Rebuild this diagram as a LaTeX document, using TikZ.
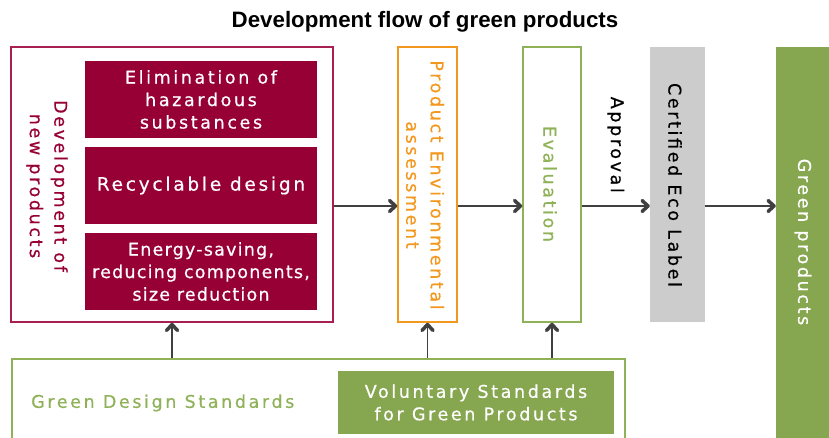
\documentclass[tikz,border=0pt]{standalone}
\usepackage{fontspec}
\setmainfont{Liberation Sans}
\newfontfamily\spaced[LetterSpace=15,FakeBold=0.6]{DejaVu Sans}
\newfontfamily\tighter[LetterSpace=7,FakeBold=0.6]{DejaVu Sans}
\usetikzlibrary{arrows.meta,calc}
\definecolor{devred}{RGB}{150,0,52}
\definecolor{devline}{RGB}{168,32,82}
\definecolor{peorange}{RGB}{243,152,30}
\definecolor{evgreen}{RGB}{143,178,88}
\definecolor{gpgreen}{RGB}{135,166,80}
\definecolor{arrowgray}{RGB}{64,64,64}
\definecolor{labelgray}{RGB}{204,204,204}
\begin{document}
\begin{tikzpicture}[x=1bp,y=-1bp]
\tikzstyle{every node}+=[inner sep=0pt]
\tikzstyle{txt}=[font=\spaced\fontsize{17.5bp}{22.5bp}\selectfont, align=center]
\tikzstyle{vtxt}=[font=\spaced\fontsize{17.5bp}{24.5bp}\selectfont, align=center, rotate=-90]
\tikzstyle{flow}=[draw=arrowgray, line width=1.3bp, -{Straight Barb[length=6bp,width=11bp,line width=3.5bp,round]}]
\useasboundingbox (0,0) rectangle (829,438);
\node (title) at (425,22) {\fontsize{22.3bp}{24bp}\selectfont\bfseries Development flow of green products};
\node[draw=devline, line width=1.5bp, minimum width=322bp, minimum height=275bp] (dev) at (172,184.5) {};
\node[vtxt, text=devred] (devlabel) at (47,186) {Development of\\new products};
\node[txt, fill=devred, text=white, minimum width=232bp, minimum height=77bp] (hazard) at (201,99.5) {Elimination of\\hazardous\\substances};
\node[txt, fill=devred, text=white, minimum width=232bp, minimum height=77bp, font=\spaced\fontsize{18.5bp}{22.5bp}\selectfont] (recycle) at (201,185.5) {Recyclable design};
\node[txt, fill=devred, text=white, minimum width=232bp, minimum height=77bp, font=\tighter\fontsize{17.5bp}{22.5bp}\selectfont] (energy) at (201,271.5) {Energy-saving,\\reducing components,\\size reduction};
\node[draw=peorange, line width=1.5bp, minimum width=59bp, minimum height=275bp] (pe) at (427.5,184.5) {};
\node[vtxt, text=peorange] (petext) at (425,185) {Product Environmental\\assessment};
\node[draw=evgreen, line width=1.5bp, minimum width=58bp, minimum height=275bp] (ev) at (552,184.5) {};
\node[vtxt, text=evgreen] (evtext) at (550,184) {Evaluation};
\node[fill=labelgray, minimum width=55bp, minimum height=275bp] (cert) at (677.5,184.5) {};
\node[vtxt] (certtext) at (675,185) {Certified Eco Label};
\node[fill=gpgreen, minimum width=55bp, minimum height=393bp] (gp) at (803.5,243.5) {};
\node[vtxt, text=white] (gptext) at (803,242) {Green products};
\node[draw=evgreen, line width=1.5bp, minimum width=613bp, minimum height=86bp] (gds) at (318.5,402) {};
\node[txt, text=evgreen, anchor=west] (gdstext) at (31,403) {Green Design Standards};
\node[txt, fill=gpgreen, text=white, minimum width=276bp, minimum height=63bp] (vol) at (476,402.5) {Voluntary Standards\\for Green Products};
\coordinate (flowy) at (0,206);
\draw[flow] (dev.east |- flowy) -- (pe.west |- flowy);
\draw[flow] (pe.east |- flowy) -- (ev.west |- flowy);
\draw[flow] (ev.east |- flowy) -- (cert.west |- flowy);
\draw[flow] (cert.east |- flowy) -- (gp.west |- flowy);
\coordinate (apv) at ($(ev.east |- flowy)!0.5!(cert.west |- flowy)$);
\node[vtxt, anchor=east] (approval) at ([yshift=13bp]apv) {Approval};
\draw[flow] (gds.north -| dev.south) -- (dev.south);
\draw[flow] (gds.north -| pe.south) -- (pe.south);
\draw[flow] (gds.north -| ev.south) -- (ev.south);
\end{tikzpicture}
\end{document}
